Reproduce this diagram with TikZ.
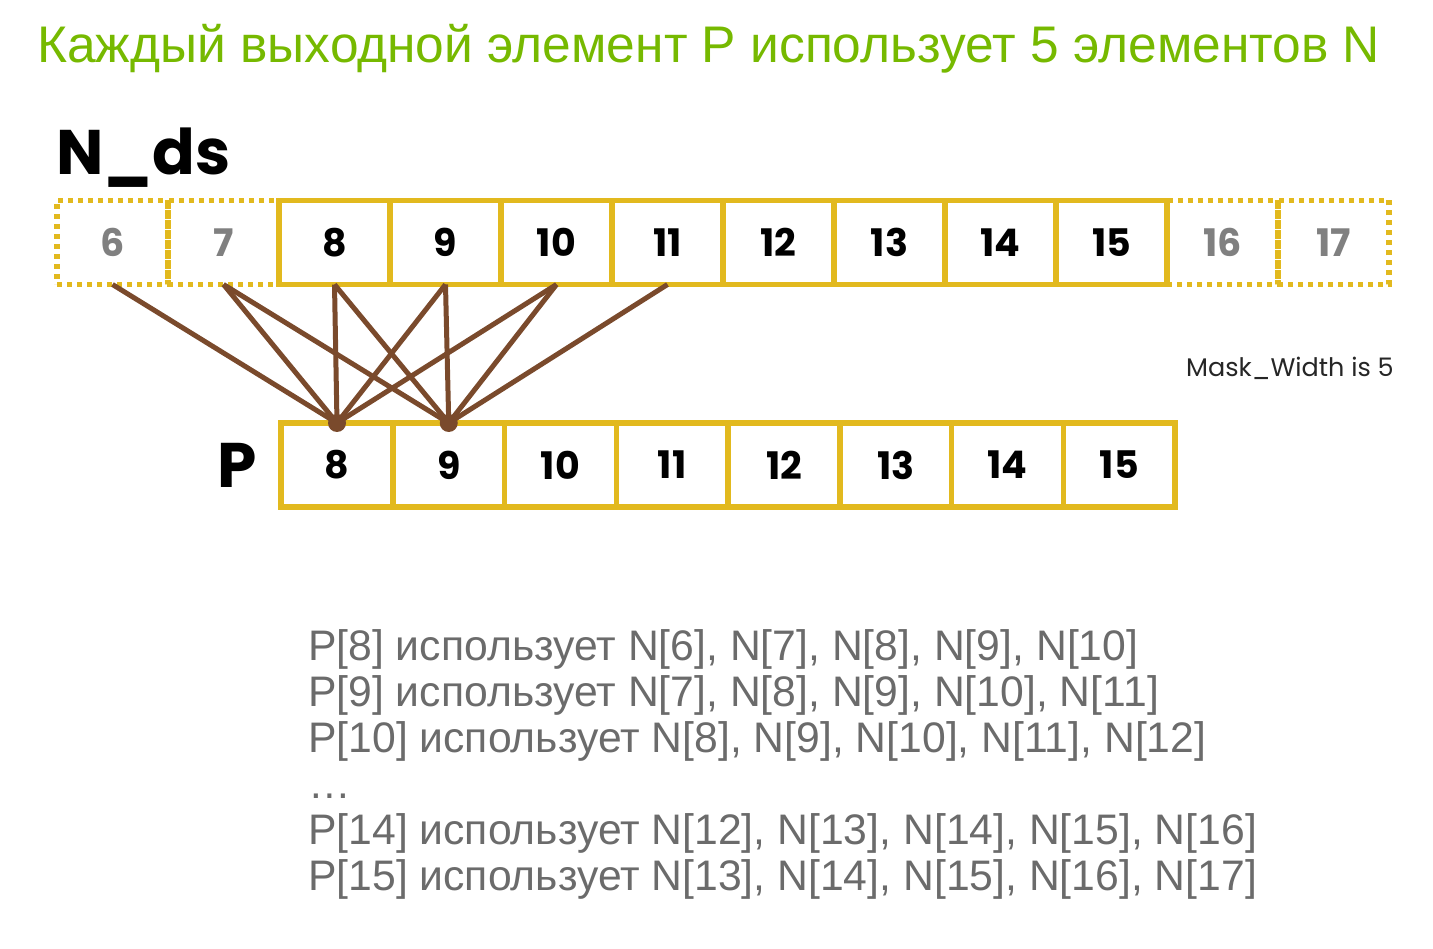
\documentclass[tikz,border=0pt]{standalone}
\usepackage{fontspec}
\setmainfont{Liberation Sans}
\newfontfamily\digitfont{Poppins}
\usepackage{tikz}
\usetikzlibrary{positioning}
\usetikzlibrary{calc}

\definecolor{nvgreen}{HTML}{76B900}
\definecolor{cellgold}{HTML}{E2B91E}
\definecolor{wirebrown}{HTML}{7A4A2C}
\definecolor{textgray}{HTML}{6B6B6B}

\begin{document}
\begin{tikzpicture}[
    x=1pt,
    y=-1pt,
    line join=miter
]
\tikzstyle{cell}=[rectangle, draw=cellgold, line width=5.5pt, outer sep=0pt, inner sep=0pt, minimum width=111pt, minimum height=84pt, font=\digitfont\bfseries\fontsize{38}{40}\selectfont]
\tikzstyle{halo}=[cell, dash pattern=on 5pt off 5pt, text=gray]
\tikzstyle{wire}=[draw=wirebrown, line width=5pt]
\tikzstyle{tap}=[circle, fill=wirebrown, minimum size=18pt, inner sep=0pt]
\tikzstyle{tag}=[font=\digitfont\bfseries\fontsize{63}{66}\selectfont, inner sep=0pt]

\useasboundingbox (0,0) rectangle (1433,949);

% Title
\node[anchor=base west, inner sep=0pt, text=nvgreen, font=\fontsize{51.5}{56}\selectfont] (title) at (37,63) {Каждый выходной элемент P использует 5 элементов N};

% Input array N_ds
\node[tag, anchor=base west] (nlabel) at (56,175) {N\_ds};
\node[halo] (n6) at (112.5,242.5) {6};
\node[halo, right=0pt of n6] (n7) {7};
\foreach \i in {8,...,15} {
    \pgfmathtruncatemacro\j{\i-1}
    \node[cell, right=0pt of n\j] (n\i) {\i};
}
\node[halo, right=0pt of n15] (n16) {16};
\node[halo, right=0pt of n16] (n17) {17};

\node[anchor=base west, inner sep=0pt, text=black!85, font=\digitfont\fontsize{25.5}{28}\selectfont] (mask) at (1186,377) {Mask\_Width is 5};

% Output array P
\node[cell, minimum width=111.75pt] (p8) at (337,465) {8};
\foreach \i in {9,...,15} {
    \pgfmathtruncatemacro\j{\i-1}
    \node[cell, minimum width=111.75pt, right=0pt of p\j] (p\i) {\i};
}
\node[tag, left=24pt of p8] (plabel) {P};

% Connections
\node[tap] (t8) at (p8.north) {};
\node[tap] (t9) at (p9.north) {};
\foreach \s in {6,...,10}
    \draw[wire] (n\s.south) -- (t8.center);
\foreach \s in {7,...,11}
    \draw[wire] (n\s.south) -- (t9.center);

% Explanation
\node[anchor=north west, inner sep=0pt, align=left, text=textgray, font=\fontsize{42.7}{46}\selectfont] (uses) at (308,629) {%
P[8] использует N[6], N[7], N[8], N[9], N[10]\\
P[9] использует N[7], N[8], N[9], N[10], N[11]\\
P[10] использует N[8], N[9], N[10], N[11], N[12]\\
\dots\\
P[14] использует N[12], N[13], N[14], N[15], N[16]\\
P[15] использует N[13], N[14], N[15], N[16], N[17]};

\end{tikzpicture}
\end{document}
